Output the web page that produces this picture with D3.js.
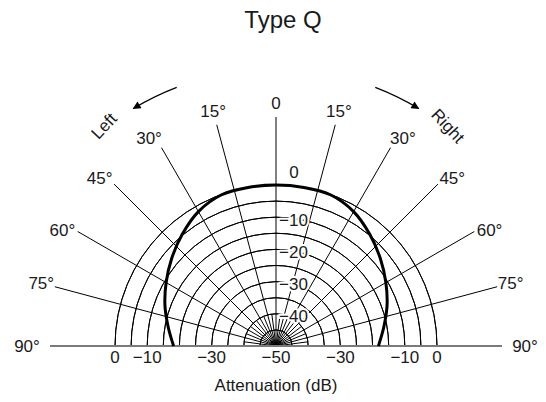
<!DOCTYPE html>
<html>
<head>
<meta charset="utf-8">
<script src="https://cdn.jsdelivr.net/npm/d3@7"></script>
<style>
  html, body { margin: 0; padding: 0; background: #fff; }
  svg { display: block; }
  text { font-family: "Liberation Sans", Arial, Helvetica, sans-serif; fill: #1a1a1a; }
</style>
</head>
<body>
<svg id="chart" width="546" height="402"></svg>
<script>
// ---- data ----
const title = "Type Q";
const axisTitle = "Attenuation (dB)";
// polar pattern: angle from front (degrees, negative = left) and attenuation (dB)
const patternAngles = [-90, -80, -70, -60, -50, -40, -30, -20, -10, 0, 10, 20, 30, 40, 50, 60, 70, 80, 90];
const patternDb     = [-18.2, -16, -13.3, -10.6, -7.7, -4.7, -1.8, -0.1, 0, 0, 0, -0.1, -1.8, -4.7, -7.7, -10.6, -13.3, -16, -18.2];
// grid
const ringDb = [-45, -40, -35, -30, -25, -20, -15, -10, -5, 0];
const spokeAngles = [-75, -60, -45, -30, -15, 0, 15, 30, 45, 60, 75];
const spokeLabels = ["75°", "60°", "45°", "30°", "15°", "0", "15°", "30°", "45°", "60°", "75°"];
const innerSpokeAngles = [-82.5, -67.5, -52.5, -37.5, -22.5, -7.5, 7.5, 22.5, 37.5, 52.5, 67.5, 82.5];
const sideAngles = [-90, 90];
const sideLabels = ["90°", "90°"];
const verticalTickDb = [0, -10, -20, -30, -40];
const verticalTickLabels = ["0", "−10", "−20", "−30", "−40"];
const bottomTickDb = [0, -10, -30, -50, -30, -10, 0];
const bottomTickSide = [-1, -1, -1, 0, 1, 1, 1];
const bottomTickLabels = ["0", "−10", "−30", "−50", "−30", "−10", "0"];
const directionLabels = ["Left", "Right"];

// ---- layout ----
const svg = d3.select("#chart");
const cx = 276, cy = 346;
const r = d3.scaleLinear().domain([-50, 0]).range([0, 161]);
const spokeLen = 229, labelR = 243;
const rad = d => d * Math.PI / 180;
const px = (a, rr) => cx + rr * Math.sin(rad(a));
const py = (a, rr) => cy - rr * Math.cos(rad(a));
const labelAngle = a => (Math.abs(a) >= 30 && Math.abs(a) <= 60) ? a + Math.sign(a) * 1.5 : a;

const g = svg.append("g");

// title
svg.append("text").attr("x", 283).attr("y", 28).attr("text-anchor", "middle")
  .attr("font-size", 24).text(title);

// rings
const arc = d3.arc().startAngle(-Math.PI / 2).endAngle(Math.PI / 2);
g.selectAll("path.ring").data(ringDb).join("path").attr("class", "ring")
  .attr("transform", `translate(${cx},${cy})`)
  .attr("d", d => arc({innerRadius: r(d), outerRadius: r(d)}))
  .attr("fill", "none").attr("stroke", "#000").attr("stroke-width", 1);

// inner short spokes
g.selectAll("line.inner").data(innerSpokeAngles).join("line").attr("class", "inner")
  .attr("x1", cx).attr("y1", cy)
  .attr("x2", d => px(d, r(-40))).attr("y2", d => py(d, r(-40)))
  .attr("stroke", "#000").attr("stroke-width", 1);

// main spokes
g.selectAll("line.spoke").data(spokeAngles).join("line").attr("class", "spoke")
  .attr("x1", cx).attr("y1", cy)
  .attr("x2", d => px(d, spokeLen)).attr("y2", d => py(d, spokeLen))
  .attr("stroke", "#000").attr("stroke-width", 1);

// baseline (90°)
g.append("line").attr("x1", px(-90, 226)).attr("y1", cy).attr("x2", px(90, 226)).attr("y2", cy)
  .attr("stroke", "#7a7a7a").attr("stroke-width", 2);

// spoke labels
g.selectAll("text.spl").data(spokeAngles).join("text").attr("class", "spl")
  .attr("x", d => px(labelAngle(d), labelR)).attr("y", d => py(labelAngle(d), labelR))
  .attr("text-anchor", "middle").attr("dominant-baseline", "central")
  .attr("font-size", 17).text((d, i) => spokeLabels[i]);
g.selectAll("text.side").data(sideAngles).join("text").attr("class", "side")
  .attr("x", d => px(d, 249)).attr("y", d => py(d, 249))
  .attr("text-anchor", "middle").attr("dominant-baseline", "central")
  .attr("font-size", 17).text((d, i) => sideLabels[i]);

// polar pattern
const line = d3.lineRadial()
  .angle((d, i) => rad(patternAngles[i]))
  .radius(d => r(d))
  .curve(d3.curveCatmullRom.alpha(0.5));
g.append("path").datum(patternDb)
  .attr("transform", `translate(${cx},${cy})`)
  .attr("d", line).attr("fill", "none").attr("stroke", "#000").attr("stroke-width", 3);

// vertical tick labels with white halo
g.selectAll("text.vt").data(verticalTickDb).join("text").attr("class", "vt")
  .attr("x", d => d === 0 ? cx + 18 : cx + 3)
  .attr("y", d => d === 0 ? cy - r(d) - 13 : cy - r(d) + 3)
  .attr("text-anchor", d => d === 0 ? "middle" : "start")
  .attr("dominant-baseline", "central")
  .attr("font-size", 17)
  .attr("stroke", d => d === 0 ? "none" : "#fff").attr("stroke-width", 4)
  .attr("paint-order", "stroke").attr("stroke-linejoin", "round")
  .text((d, i) => verticalTickLabels[i]);

// bottom tick labels
g.selectAll("text.bt").data(bottomTickDb).join("text").attr("class", "bt")
  .attr("x", (d, i) => cx + bottomTickSide[i] * r(d))
  .attr("y", 363).attr("text-anchor", "middle")
  .attr("font-size", 17).text((d, i) => bottomTickLabels[i]);

// axis title
svg.append("text").attr("x", cx).attr("y", 391).attr("text-anchor", "middle")
  .attr("font-size", 17).text(axisTitle);

// direction arrows
const defs = svg.append("defs");
defs.append("marker").attr("id", "ah").attr("viewBox", "0 0 10 10")
  .attr("refX", 9).attr("refY", 5).attr("markerWidth", 13).attr("markerHeight", 8)
  .attr("markerUnits", "userSpaceOnUse").attr("orient", "auto")
  .append("path").attr("d", "M0,0 L10,5 L0,10 Z").attr("fill", "#000");
const arrowR = 277;
[[-21, -31], [21, 31]].forEach(([a0, a1]) => {
  const sweep = a1 > a0 ? 1 : 0;
  g.append("path")
    .attr("d", `M${px(a0, arrowR)},${py(a0, arrowR)} A${arrowR},${arrowR} 0 0 ${sweep} ${px(a1, arrowR)},${py(a1, arrowR)}`)
    .attr("fill", "none").attr("stroke", "#000").attr("stroke-width", 1.2)
    .attr("marker-end", "url(#ah)");
});
g.selectAll("text.dir").data([-38, 38]).join("text").attr("class", "dir")
  .attr("transform", d => `translate(${px(d, 279)},${py(d, 279)}) rotate(${d > 0 ? 47 : -47})`)
  .attr("text-anchor", "middle").attr("dominant-baseline", "central")
  .attr("font-size", 17).text((d, i) => directionLabels[i]);
</script>
</body>
</html>
